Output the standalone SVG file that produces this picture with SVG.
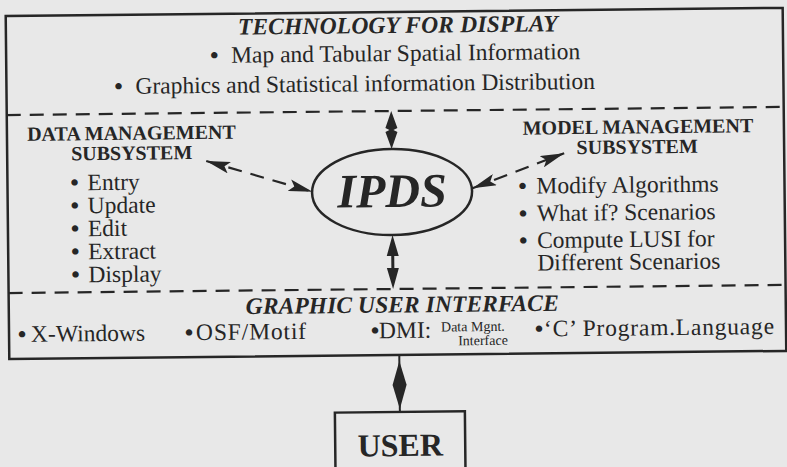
<svg xmlns="http://www.w3.org/2000/svg" width="787" height="467" viewBox="0 0 787 467">
<style>
text{font-family:"Liberation Serif","Times New Roman",serif;fill:#262626}
.t{font-size:23.5px}
.b{font-weight:bold}
.h{font-size:23.5px;font-weight:bold;font-style:italic}
.s{font-size:20px;font-weight:bold}
.sm{font-size:14px}
.line{stroke:#262626;fill:none}
.dash{stroke:#262626;stroke-width:2.2;stroke-dasharray:14 9;fill:none}
.ink{fill:#262626}
</style>
<defs>
<marker id="ah" viewBox="0 0 24 12" refX="24" refY="6" markerWidth="24" markerHeight="12" markerUnits="userSpaceOnUse" orient="auto-start-reverse">
<path d="M0,0 L24,6 L0,12 L5,6 Z" fill="#262626"/>
</marker>
</defs>
<rect width="787" height="467" fill="#e8e8e8"/>
<g transform="rotate(-0.6 393 233)">
<g id="frame">
<rect class="line" x="8" y="12" width="777" height="343" stroke-width="2.5"/>
<line class="dash" x1="8" y1="111" x2="785" y2="111"/>
<line class="dash" x1="8" y1="289" x2="785" y2="289"/>
</g>
<g id="technology-display">
<text class="h" x="240" y="33" textLength="320">TECHNOLOGY FOR DISPLAY</text>
<text class="t" y="61"><tspan x="212" class="b">•</tspan><tspan x="233">Map and Tabular Spatial Information</tspan></text>
<text class="t" y="91"><tspan x="116" class="b">•</tspan><tspan x="137">Graphics and Statistical information Distribution</tspan></text>
</g>
<g id="data-management">
<text class="s" x="132.5" y="137" text-anchor="middle">DATA MANAGEMENT</text>
<text class="s" x="132.5" y="157" text-anchor="middle">SUBSYSTEM</text>
<text class="t" y="187"><tspan x="71" class="b">•</tspan><tspan x="88">Entry</tspan></text>
<text class="t" y="210"><tspan x="71" class="b">•</tspan><tspan x="88">Update</tspan></text>
<text class="t" y="233"><tspan x="71" class="b">•</tspan><tspan x="88">Edit</tspan></text>
<text class="t" y="256"><tspan x="71" class="b">•</tspan><tspan x="88">Extract</tspan></text>
<text class="t" y="279"><tspan x="71" class="b">•</tspan><tspan x="88">Display</tspan></text>
</g>
<g id="ipds">
<ellipse class="line" cx="392.5" cy="192" rx="80" ry="43" stroke-width="2.5"/>
<text x="392.5" y="207" text-anchor="middle" font-size="48" font-weight="bold" font-style="italic">IPDS</text>
</g>
<g id="model-management">
<text class="s" x="639" y="136" text-anchor="middle">MODEL MANAGEMENT</text>
<text class="s" x="638" y="156" text-anchor="middle">SUBSYSTEM</text>
<text class="t" y="195"><tspan x="519" class="b">•</tspan><tspan x="537">Modify Algorithms</tspan></text>
<text class="t" y="222.5"><tspan x="519" class="b">•</tspan><tspan x="537">What if? Scenarios</tspan></text>
<text class="t" y="249.5"><tspan x="519" class="b">•</tspan><tspan x="537">Compute LUSI for</tspan></text>
<text class="t" x="537" y="272">Different Scenarios</text>
</g>
<g id="gui">
<text class="h" x="245" y="312.5" textLength="313">GRAPHIC USER INTERFACE</text>
<text class="t" y="338"><tspan x="17" class="b">•</tspan><tspan x="30">X-Windows</tspan></text>
<text class="t" y="338"><tspan x="184" class="b">•</tspan><tspan x="195" textLength="110">OSF/Motif</tspan></text>
<text class="t" y="338"><tspan x="370" class="b">•</tspan><tspan x="378">DMI:</tspan></text>
<text class="sm" x="440" y="332">Data Mgnt.</text>
<text class="sm" x="457" y="346">Interface</text>
<text class="t" y="338"><tspan x="534" class="b">•</tspan><tspan x="543" textLength="230">‘C’ Program.Language</tspan></text>
</g>
<g id="user">
<rect class="line" x="333" y="412" width="130" height="70" stroke-width="2.5"/>
<text x="398" y="456" text-anchor="middle" font-size="32" font-weight="bold">USER</text>
</g>
<g id="connectors">
<line class="dash" x1="207" y1="159" x2="313" y2="191" stroke-width="3" marker-start="url(#ah)" marker-end="url(#ah)"/>
<line class="dash" x1="473" y1="189" x2="565" y2="155" stroke-width="3" marker-start="url(#ah)" marker-end="url(#ah)"/>
<path class="ink" d="M392.5,111 L398.5,128 L394.5,130 L398.5,132 L392.5,149 L386.5,132 L390.5,130 L386.5,128 Z"/>
<path class="ink" d="M392.5,235 L398.5,256 L394,256 L394,268 L398.5,268 L392.5,289 L386.5,268 L391,268 L391,256 L386.5,256 Z"/>
<line class="line" x1="398" y1="355" x2="398" y2="412" stroke-width="2"/>
<path class="ink" d="M398,361 L405,385 L398,409 L391,385 Z"/>
</g>
</g>
</svg>
